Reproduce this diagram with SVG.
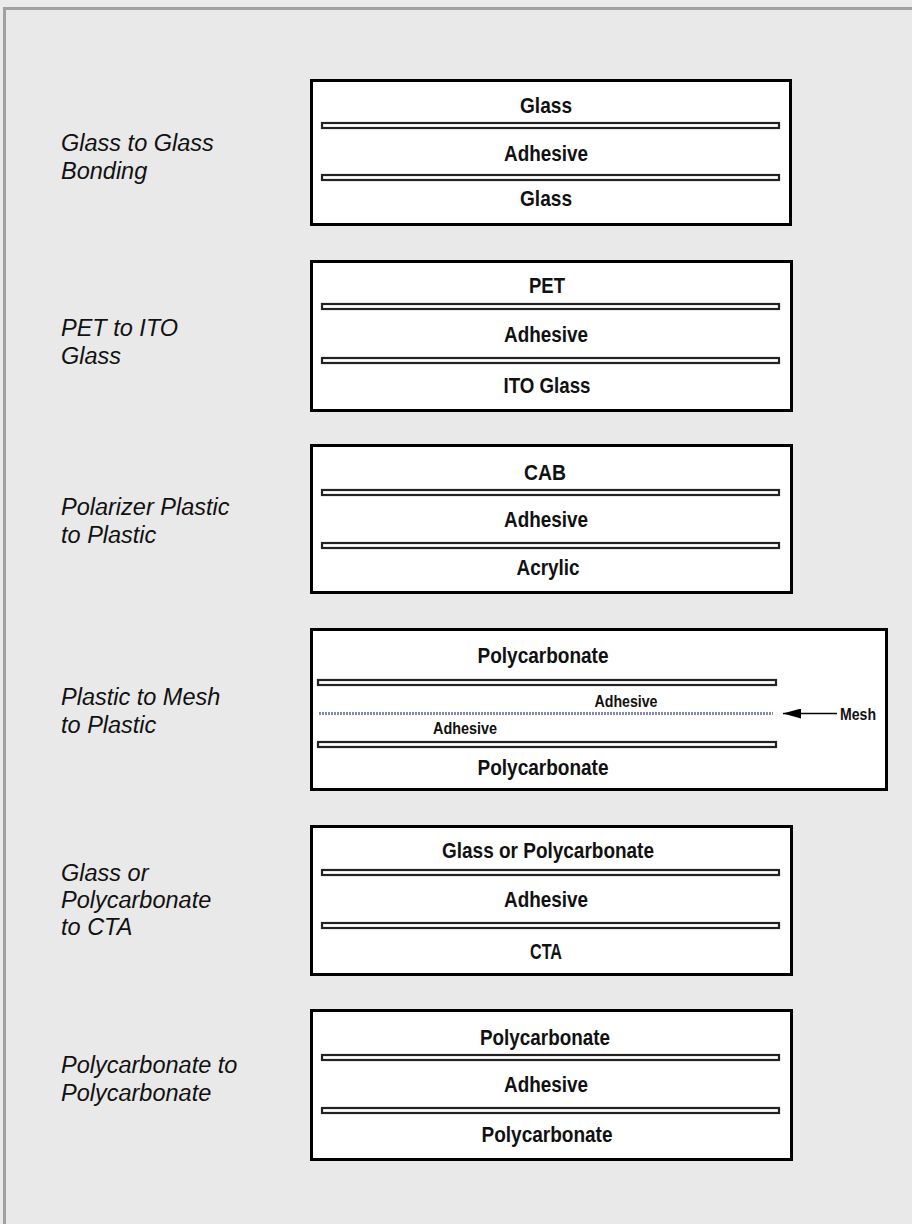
<svg xmlns="http://www.w3.org/2000/svg" width="912" height="1224" viewBox="0 0 912 1224">
<style>
.lbl{font-family:"Liberation Sans",Arial,sans-serif;font-style:italic;font-size:23.5px;fill:#111}
.t{font-family:"Liberation Sans",Arial,sans-serif;font-weight:bold;font-size:22px;fill:#111;text-anchor:middle}
.s{font-family:"Liberation Sans",Arial,sans-serif;font-weight:bold;font-size:16px;fill:#111;text-anchor:middle}
.box{fill:#fff;stroke:#000;stroke-width:3}
.bar{fill:#fff;stroke:#222;stroke-width:2.2}
</style>
<defs>
<marker id="ah" markerWidth="18" markerHeight="10" refX="18" refY="5" orient="auto" markerUnits="userSpaceOnUse" viewBox="0 0 18 10">
<path d="M0,0 L18,5 L0,10 Z" fill="#000"/>
</marker>
</defs>
<rect x="0" y="0" width="912" height="1224" fill="#eaeaea"/>
<rect x="4.5" y="8.5" width="1000" height="1300" fill="#e9e9e9" stroke="#a0a0a0" stroke-width="3"/>

<g id="n1">
<text class="lbl" x="61" y="151">Glass to Glass</text>
<text class="lbl" x="61" y="179">Bonding</text>
<rect class="box" x="311.5" y="80.5" width="479" height="144"/>
<text class="t" x="546" y="113" textLength="52" lengthAdjust="spacingAndGlyphs">Glass</text>
<rect class="bar" x="322" y="123" width="457" height="5"/>
<text class="t" x="546" y="161" textLength="84" lengthAdjust="spacingAndGlyphs">Adhesive</text>
<rect class="bar" x="322" y="175" width="457" height="5"/>
<text class="t" x="546" y="206" textLength="52" lengthAdjust="spacingAndGlyphs">Glass</text>
</g>

<g id="n2">
<text class="lbl" x="61" y="336">PET to ITO</text>
<text class="lbl" x="61" y="364">Glass</text>
<rect class="box" x="311.5" y="261.5" width="480" height="149"/>
<text class="t" x="547" y="293" textLength="36" lengthAdjust="spacingAndGlyphs">PET</text>
<rect class="bar" x="322" y="304" width="457" height="5"/>
<text class="t" x="546" y="342" textLength="84" lengthAdjust="spacingAndGlyphs">Adhesive</text>
<rect class="bar" x="322" y="358" width="457" height="5"/>
<text class="t" x="547" y="393" textLength="87" lengthAdjust="spacingAndGlyphs">ITO Glass</text>
</g>

<g id="n3">
<text class="lbl" x="61" y="515">Polarizer Plastic</text>
<text class="lbl" x="61" y="543">to Plastic</text>
<rect class="box" x="311.5" y="445.5" width="480" height="147"/>
<text class="t" x="545" y="480" textLength="42" lengthAdjust="spacingAndGlyphs">CAB</text>
<rect class="bar" x="322" y="490" width="457" height="5"/>
<text class="t" x="546" y="527" textLength="84" lengthAdjust="spacingAndGlyphs">Adhesive</text>
<rect class="bar" x="322" y="543" width="457" height="5"/>
<text class="t" x="548" y="575" textLength="63" lengthAdjust="spacingAndGlyphs">Acrylic</text>
</g>

<g id="n4">
<text class="lbl" x="61" y="705">Plastic to Mesh</text>
<text class="lbl" x="61" y="733">to Plastic</text>
<rect class="box" x="311.5" y="629.5" width="575" height="160"/>
<text class="t" x="543" y="663" textLength="131" lengthAdjust="spacingAndGlyphs">Polycarbonate</text>
<rect class="bar" x="318" y="680" width="458" height="5"/>
<text class="s" x="626" y="707" textLength="63" lengthAdjust="spacingAndGlyphs">Adhesive</text>
<line x1="319" y1="713.5" x2="773" y2="713.5" stroke="#8589b5" stroke-width="3" stroke-dasharray="2 1"/>
<text class="s" x="465" y="734" textLength="64" lengthAdjust="spacingAndGlyphs">Adhesive</text>
<rect class="bar" x="318" y="742" width="458" height="5"/>
<text class="t" x="543" y="775" textLength="131" lengthAdjust="spacingAndGlyphs">Polycarbonate</text>
<text class="s" x="858" y="720" font-size="18" textLength="36" lengthAdjust="spacingAndGlyphs">Mesh</text>
</g>

<g id="n5">
<text class="lbl" x="61" y="881">Glass or</text>
<text class="lbl" x="61" y="908">Polycarbonate</text>
<text class="lbl" x="61" y="935">to CTA</text>
<rect class="box" x="311.5" y="826.5" width="480" height="148"/>
<text class="t" x="548" y="858" textLength="212" lengthAdjust="spacingAndGlyphs">Glass or Polycarbonate</text>
<rect class="bar" x="322" y="870" width="457" height="5"/>
<text class="t" x="546" y="907" textLength="84" lengthAdjust="spacingAndGlyphs">Adhesive</text>
<rect class="bar" x="322" y="923" width="457" height="5"/>
<text class="t" x="546" y="959" textLength="32" lengthAdjust="spacingAndGlyphs">CTA</text>
</g>

<g id="n6">
<text class="lbl" x="61" y="1073">Polycarbonate to</text>
<text class="lbl" x="61" y="1101">Polycarbonate</text>
<rect class="box" x="311.5" y="1010.5" width="480" height="149"/>
<text class="t" x="545" y="1045" textLength="130" lengthAdjust="spacingAndGlyphs">Polycarbonate</text>
<rect class="bar" x="322" y="1055" width="457" height="5"/>
<text class="t" x="546" y="1092" textLength="84" lengthAdjust="spacingAndGlyphs">Adhesive</text>
<rect class="bar" x="322" y="1108" width="457" height="5"/>
<text class="t" x="547" y="1142" textLength="131" lengthAdjust="spacingAndGlyphs">Polycarbonate</text>
</g>

<g id="connectors">
<line x1="837" y1="713.5" x2="783" y2="713.5" stroke="#000" stroke-width="1.6" marker-end="url(#ah)"/>
</g>
</svg>
